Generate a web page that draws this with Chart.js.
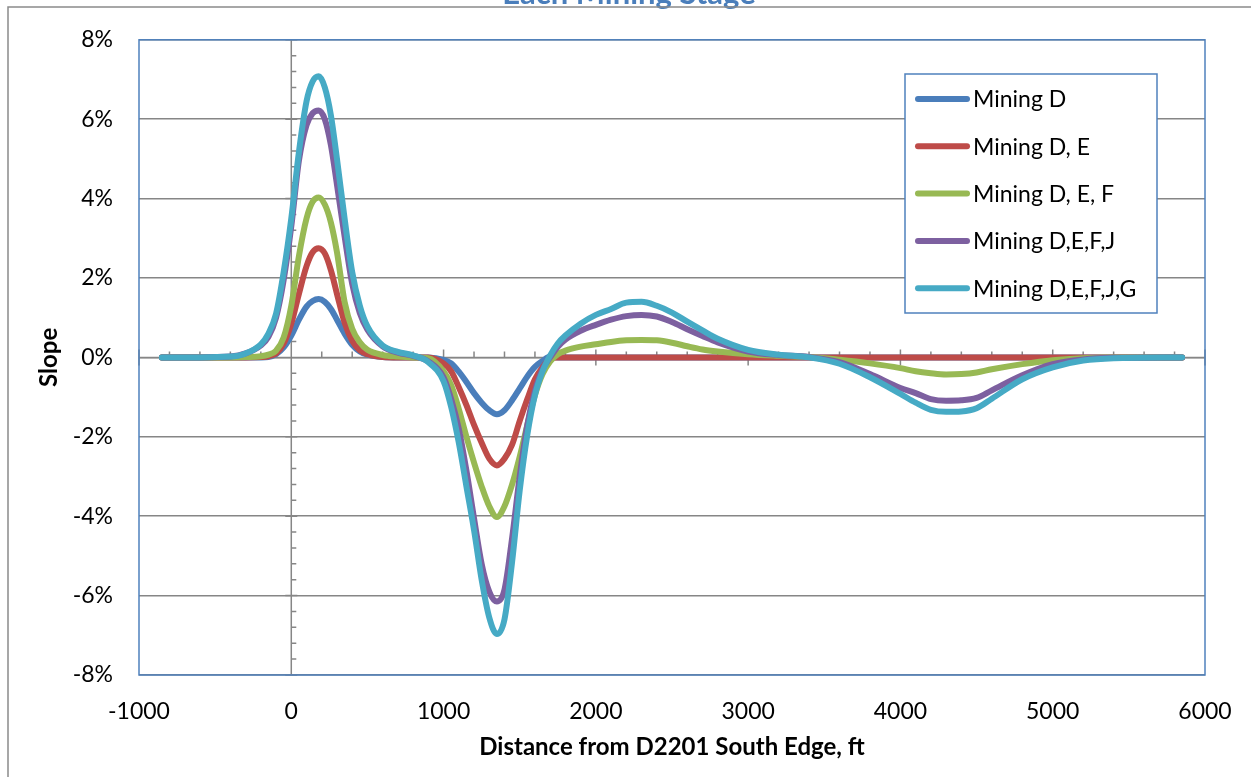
<!DOCTYPE html>
<html>
<head>
<meta charset="utf-8">
<title>Slope - Each Mining Stage</title>
<script src="https://cdn.jsdelivr.net/npm/chart.js@4.4.1/dist/chart.umd.min.js"></script>
<style>
  body { margin: 0; background: #fff; }
  canvas { display: block; }
</style>
</head>
<body>
<canvas id="slopeChart" width="1251" height="777"></canvas>
<script>
// distance from D2201 south edge (ft)
const distance = [
  -850, -600, -400, -300, -200, -150, -100, -50,
  0, 50, 100, 140, 180, 220, 260, 300, 350, 400, 450, 500,
  600, 700, 800, 900,
  1000, 1050, 1100, 1150, 1200, 1250, 1300, 1350, 1400, 1450, 1500, 1550, 1600, 1650, 1700, 1750,
  1800, 1900, 2000, 2100, 2200, 2300, 2400, 2500, 2600, 2700, 2800, 3000, 3200, 3400,
  3600, 3800, 4000, 4100, 4200, 4300, 4400, 4500, 4600, 4800, 5000, 5200, 5400, 5850
];

// slope in percent for each mining stage
const miningD = [
  0, 0, 0, 0, 0, 0.01, 0.08, 0.25,
  0.55, 0.95, 1.28, 1.42, 1.47, 1.4, 1.22, 0.95, 0.6, 0.32, 0.15, 0.07,
  0.01, 0, 0, 0,
  -0.06, -0.15, -0.36, -0.62, -0.9, -1.14, -1.33, -1.43, -1.33, -1.08, -0.78, -0.48, -0.24, -0.09, 0.02, 0,
  0, 0, 0, 0, 0, 0, 0, 0, 0, 0, 0, 0, 0, 0,
  0, 0, 0, 0, 0, 0, 0, 0, 0, 0, 0, 0, 0, 0
];
const miningDE = [
  0, 0, 0, 0, 0.01, 0.03, 0.1, 0.35,
  0.85, 1.6, 2.3, 2.65, 2.75, 2.62, 2.2, 1.6, 0.88, 0.42, 0.18, 0.08,
  0.01, 0, 0, 0,
  -0.15, -0.35, -0.75, -1.2, -1.7, -2.15, -2.55, -2.72, -2.55, -2.2, -1.6, -1.05, -0.55, -0.25, -0.05, 0,
  0, 0, 0, 0, 0, 0, 0, 0, 0, 0, 0, 0, 0, 0,
  0, 0, 0, 0, 0, 0, 0, 0, 0, 0, 0, 0, 0, 0
];
const miningDEF = [
  0, 0, 0, 0.01, 0.03, 0.07, 0.17, 0.5,
  1.3, 2.55, 3.5, 3.92, 4.03, 3.85, 3.4, 2.65, 1.4, 0.72, 0.38, 0.19,
  0.06, 0.02, 0, -0.02,
  -0.35, -0.7, -1.3, -2.0, -2.65, -3.25, -3.75, -4.02, -3.75, -3.2, -2.5, -1.7, -0.95, -0.42, -0.1, 0.08,
  0.17, 0.27, 0.33, 0.39, 0.43, 0.44, 0.43, 0.37, 0.28, 0.2, 0.15, 0.08, 0.04, 0.01,
  -0.06, -0.15, -0.27, -0.35, -0.4, -0.43, -0.42, -0.38, -0.3, -0.17, -0.07, -0.02, 0, 0
];
const miningDEFJ = [
  0, 0, 0.02, 0.1, 0.3, 0.52, 1.0, 1.95,
  3.3, 4.95, 5.85, 6.15, 6.22, 6.0, 5.35, 4.35, 3.05, 1.85, 1.12, 0.7,
  0.28, 0.12, 0.04, -0.1,
  -0.5, -1.05, -1.8, -2.85, -4.05, -5.2, -5.9, -6.15, -5.85, -4.55, -3.0, -1.7, -0.85, -0.3, 0, 0.27,
  0.45, 0.67, 0.82, 0.95, 1.04, 1.07, 1.03, 0.89, 0.71, 0.54, 0.38, 0.15, 0.06, 0.01,
  -0.12, -0.42, -0.77, -0.9, -1.05, -1.09, -1.08, -1.02, -0.83, -0.45, -0.17, -0.05, -0.01, 0
];
const miningDEFJG = [
  0, 0, 0.02, 0.1, 0.33, 0.6, 1.1, 2.15,
  3.5, 5.17, 6.45, 6.95, 7.08, 6.8, 6.1, 5.0, 3.5, 2.15, 1.3, 0.78,
  0.3, 0.14, 0.05, -0.12,
  -0.6, -1.25, -2.15, -3.25, -4.35, -5.6, -6.55, -6.97, -6.6, -5.15, -3.35, -1.95, -0.95, -0.35, 0.05, 0.35,
  0.55, 0.85, 1.07, 1.22, 1.38, 1.4, 1.3, 1.13, 0.9, 0.68, 0.47, 0.19, 0.07, 0,
  -0.16, -0.5, -0.92, -1.14, -1.32, -1.37, -1.36, -1.28, -1.04, -0.55, -0.25, -0.08, -0.02, 0
];

const seriesNames = ["Mining D", "Mining D, E", "Mining D, E, F", "Mining D,E,F,J", "Mining D,E,F,J,G"];
const seriesValues = [miningD, miningDE, miningDEF, miningDEFJ, miningDEFJG];
const seriesColors = ["#4A7EBB", "#BE4B48", "#98B954", "#7D60A0", "#46AAC5"];

const FONT = "Lato, 'Open Sans', sans-serif";

// axes crossing at zero, plot border, legend box, outer frame
const stagePlugin = {
  id: "stagePlugin",
  beforeDatasetsDraw(chart) {
    const { ctx, chartArea: a, scales: { x, y } } = chart;
    const x0 = x.getPixelForValue(0);
    const y0 = y.getPixelForValue(0);
    ctx.save();
    ctx.strokeStyle = "#868686";
    ctx.lineWidth = 1.5;
    ctx.beginPath();
    ctx.moveTo(x0, a.top);
    ctx.lineTo(x0, a.bottom);
    for (let i = 0; i <= 40; i++) {
      const py = y.getPixelForValue(-8 + i * 0.4);
      if (i % 5 === 0) {
        ctx.moveTo(x0 - 6, py); ctx.lineTo(x0 + 6, py);
      } else {
        ctx.moveTo(x0, py); ctx.lineTo(x0 + 5, py);
      }
    }
    ctx.moveTo(a.left, y0);
    ctx.lineTo(a.right, y0);
    for (let i = 0; i <= 35; i++) {
      const px = x.getPixelForValue(-1000 + i * 200);
      if (i % 5 === 0) {
        ctx.moveTo(px, y0 - 8); ctx.lineTo(px, y0 + 8);
      } else {
        ctx.moveTo(px, y0 - 6); ctx.lineTo(px, y0);
      }
    }
    ctx.stroke();
    ctx.strokeStyle = "#4F81BD";
    ctx.strokeRect(a.left, a.top, a.width, a.height);
    ctx.restore();
  },
  afterDraw(chart) {
    const { ctx } = chart;
    ctx.save();
    // legend
    ctx.fillStyle = "#fff";
    ctx.fillRect(905, 74, 252, 239);
    ctx.strokeStyle = "#4F81BD";
    ctx.lineWidth = 1.5;
    ctx.strokeRect(905, 74, 252, 239);
    ctx.font = "23px " + FONT;
    ctx.textAlign = "left";
    ctx.textBaseline = "middle";
    chart.data.datasets.forEach((ds, i) => {
      const ry = 99 + i * 47.3;
      ctx.strokeStyle = ds.borderColor;
      ctx.lineWidth = 6;
      ctx.lineCap = "round";
      ctx.beginPath();
      ctx.moveTo(918, ry);
      ctx.lineTo(967, ry);
      ctx.stroke();
      ctx.fillStyle = "#000";
      ctx.fillText(ds.label, 973, ry + 1);
    });
    // chart title, mostly above the frame
    ctx.fillStyle = "#4A7EBB";
    ctx.font = "bold 31px " + FONT;
    ctx.textAlign = "center";
    ctx.textBaseline = "alphabetic";
    ctx.fillText("Each Mining Stage", 629, 4);
    // outer chart frame
    ctx.strokeStyle = "#8a8a8a";
    ctx.lineWidth = 1.5;
    ctx.lineCap = "butt";
    ctx.strokeRect(8, 7, 1400, 1000);
    ctx.restore();
  }
};

new Chart(document.getElementById("slopeChart"), {
  type: "line",
  data: {
    datasets: seriesNames.map((name, i) => ({
      label: name,
      data: distance.map((d, j) => ({ x: d, y: seriesValues[i][j] })),
      borderColor: seriesColors[i],
      backgroundColor: seriesColors[i],
      borderWidth: 6,
      pointRadius: 0,
      cubicInterpolationMode: "monotone",
      borderCapStyle: "round",
      borderJoinStyle: "round",
      order: seriesNames.length - i   // later stages drawn on top
    }))
  },
  options: {
    responsive: false,
    animation: false,
    devicePixelRatio: 1,
    layout: { padding: { top: 37, right: 46, left: 0, bottom: 0 } },
    plugins: {
      legend: { display: false },
      tooltip: { enabled: false }
    },
    scales: {
      x: {
        type: "linear",
        min: -1000,
        max: 6000,
        afterFit: s => { s.height = 102; },
        ticks: {
          stepSize: 1000,
          maxRotation: 0,
          padding: 15,
          color: "#000",
          font: { family: FONT, size: 23 },
          callback: v => String(v)
        },
        grid: { display: false },
        border: { display: false },
        title: {
          display: true,
          text: "Distance from D2201 South Edge, ft",
          color: "#000",
          font: { family: FONT, size: 24, weight: "bold" },
          padding: { top: 0, bottom: 15 }
        }
      },
      y: {
        min: -8,
        max: 8,
        afterFit: s => { s.width = 139; },
        ticks: {
          stepSize: 2,
          padding: 26,
          color: "#000",
          font: { family: FONT, size: 23 },
          callback: v => v + "%"
        },
        grid: { color: "#868686", lineWidth: 1.5, drawTicks: false },
        border: { display: false },
        title: {
          display: true,
          text: "Slope",
          color: "#000",
          font: { family: FONT, size: 24, weight: "bold" },
          padding: { top: 35, bottom: 0 }
        }
      }
    }
  },
  plugins: [stagePlugin]
});
</script>
</body>
</html>
